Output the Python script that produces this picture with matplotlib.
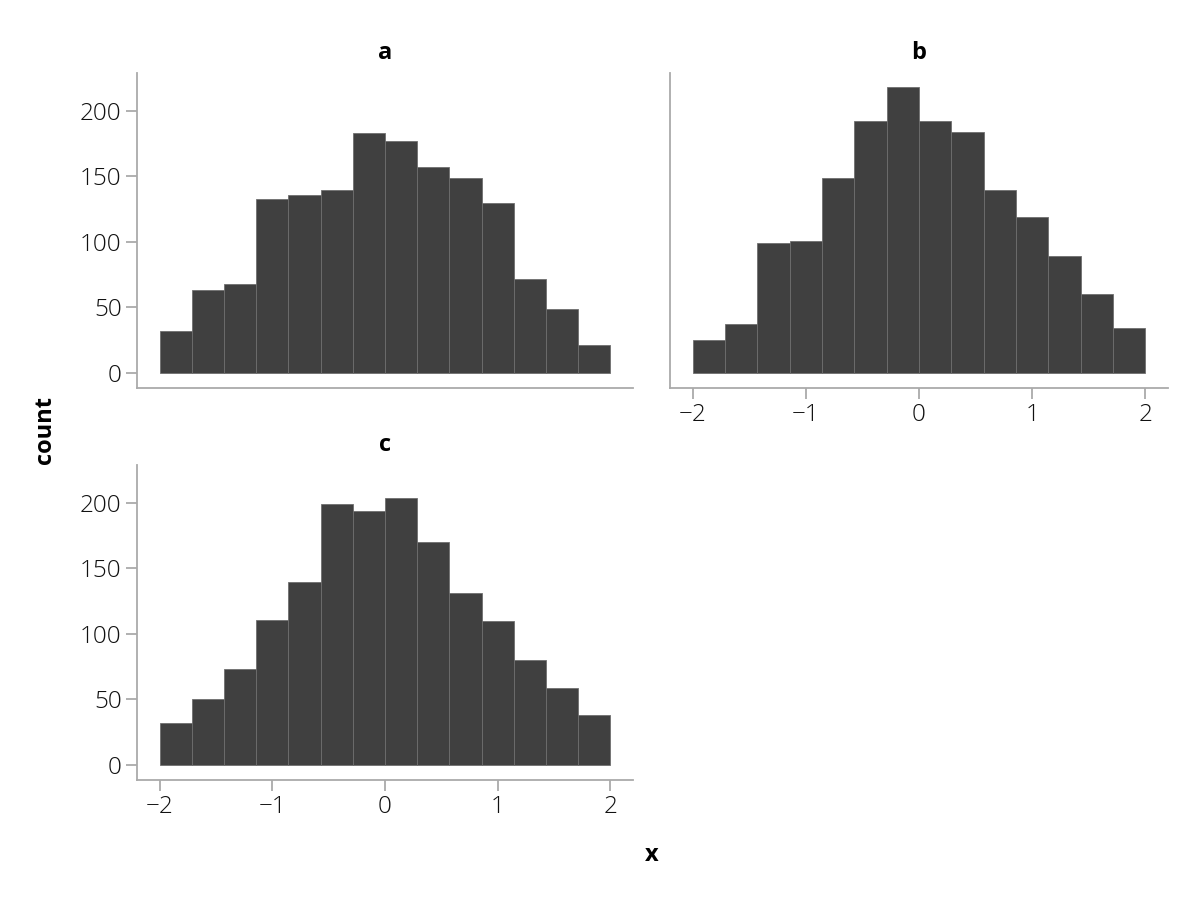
import numpy as np
import matplotlib.pyplot as plt

# histogram counts (14 bins from -2 to 2)
edges = np.linspace(-2, 2, 15)
counts_a = [32, 63, 68, 133, 136, 140, 183, 177, 157, 149, 130, 72, 49, 21]
counts_b = [25, 37, 99, 101, 149, 192, 218, 192, 184, 140, 119, 89, 60, 34]
counts_c = [32, 50, 73, 111, 140, 199, 194, 204, 170, 131, 110, 80, 59, 38]
panels = ['a', 'b', 'c']

plt.rcParams['font.family'] = ['Open Sans', 'DejaVu Sans']

fig = plt.figure(figsize=(12, 9), dpi=100)

W, H = 1200, 900
def box(x0, y0, x1, y1):
    # pixel box -> figure fraction rect
    return [x0 / W, 1 - y1 / H, (x1 - x0) / W, (y1 - y0) / H]

ax_a = fig.add_axes(box(137, 73, 633, 388))
ax_b = fig.add_axes(box(670, 73, 1168, 388))
ax_c = fig.add_axes(box(137, 465, 633, 780))

spine_col = '#aaaaaa'
for ax, counts, name in zip([ax_a, ax_b, ax_c], [counts_a, counts_b, counts_c], panels):
    ax.bar(edges[:-1], counts, width=np.diff(edges), align='edge',
           color='#404040', edgecolor='#6e6e6e', linewidth=0.6)
    ax.set_xlim(-2.2, 2.2)
    ax.set_ylim(-11.5, 229)
    ax.set_xticks([-2, -1, 0, 1, 2])
    ax.set_xticklabels(['\u22122', '\u22121', '0', '1', '2'])
    ax.set_yticks([0, 50, 100, 150, 200])
    for s in ['top', 'right']:
        ax.spines[s].set_visible(False)
    for s in ['left', 'bottom']:
        ax.spines[s].set_color(spine_col)
        ax.spines[s].set_linewidth(1.3)
    ax.tick_params(colors=spine_col, labelcolor='#111111', length=8, width=1.3,
                   labelsize=17.5, pad=3)
    for lbl in ax.get_xticklabels() + ax.get_yticklabels():
        lbl.set_fontweight('light')
    ax.set_title(name, fontsize=17, fontweight='bold', pad=10)

ax_a.tick_params(axis='x', bottom=False, labelbottom=False)
ax_b.tick_params(axis='y', left=False, labelleft=False)

fig.text(652 / W, 1 - 855 / H, 'x', fontsize=17, fontweight='bold',
         ha='center', va='center')
fig.text(45 / W, 1 - 430 / H, 'count', fontsize=17, fontweight='bold',
         rotation=90, ha='center', va='center')

fig.savefig('out.png', dpi=100)
